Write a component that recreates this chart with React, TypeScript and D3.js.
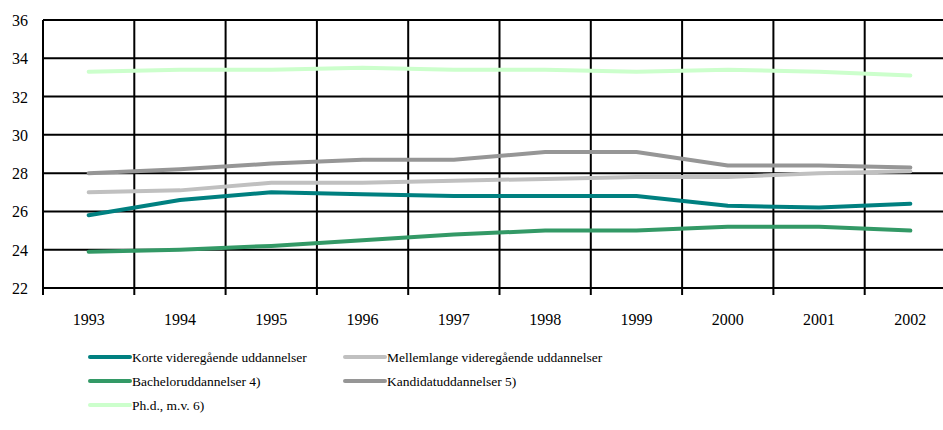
import React from "react";
import * as d3 from "d3";

const years = ["1993", "1994", "1995", "1996", "1997", "1998", "1999", "2000", "2001", "2002"];
const yTicks = [22, 24, 26, 28, 30, 32, 34, 36];

const korte = [25.8, 26.6, 27.0, 26.9, 26.8, 26.8, 26.8, 26.3, 26.2, 26.4];
const mellemlange = [27.0, 27.1, 27.5, 27.5, 27.6, 27.7, 27.8, 27.8, 28.0, 28.1];
const bachelor = [23.9, 24.0, 24.2, 24.5, 24.8, 25.0, 25.0, 25.2, 25.2, 25.0];
const kandidat = [28.0, 28.2, 28.5, 28.7, 28.7, 29.1, 29.1, 28.4, 28.4, 28.3];
const phd = [33.3, 33.4, 33.4, 33.5, 33.4, 33.4, 33.3, 33.4, 33.3, 33.1];

const seriesNames = [
  "Korte videregående uddannelser",
  "Mellemlange videregående uddannelser",
  "Bacheloruddannelser 4)",
  "Kandidatuddannelser 5)",
  "Ph.d., m.v. 6)",
];
const seriesValues = [korte, mellemlange, bachelor, kandidat, phd];
const seriesColors = ["#008080", "#C0C0C0", "#339966", "#969696", "#CCFFCC"];
// draw order (back to front)
const drawOrder = [4, 3, 1, 0, 2];

const W = 943;
const H = 430;
const FONT = '"Liberation Serif", "DejaVu Serif", serif';

export default function App() {
  const left = 43;
  const top = 20;
  const bottom = 288;
  const band = 91.3;
  const x = d3
    .scaleBand<string>()
    .domain(years)
    .range([left, left + band * years.length])
    .paddingInner(0)
    .paddingOuter(0);
  const y = d3.scaleLinear().domain([22, 36]).range([bottom, top]);
  const right = left + band * years.length;
  const cx = (yr: string) => (x(yr) as number) + x.bandwidth() / 2;

  const line = d3
    .line<number>()
    .x((_, i) => cx(years[i]))
    .y((v) => y(v));

  const legendItems = [
    { idx: 0, lx: 90, ly: 357 },
    { idx: 1, lx: 345, ly: 357 },
    { idx: 2, lx: 90, ly: 381 },
    { idx: 3, lx: 345, ly: 381 },
    { idx: 4, lx: 90, ly: 405 },
  ];

  const ts = { fontFamily: FONT };

  return (
    <svg
      width={W}
      height={H}
      style={{ position: "absolute", left: 0, top: 0, background: "#fff", fontFamily: FONT }}
    >
      <rect x={0} y={0} width={W} height={H} fill="#fff" />
      {yTicks.map((t) => (
        <line
          key={"h" + t}
          x1={left}
          x2={right}
          y1={y(t)}
          y2={y(t)}
          stroke="#000"
          strokeWidth={2}
        />
      ))}
      {years.map((yr) => (
        <line
          key={"v" + yr}
          x1={x(yr) as number}
          x2={x(yr) as number}
          y1={top}
          y2={bottom + 7}
          stroke="#000"
          strokeWidth={2}
        />
      ))}
      <line x1={right} x2={right} y1={top} y2={bottom + 7} stroke="#000" strokeWidth={2} />
      {yTicks.map((t) => (
        <text
          key={"yl" + t}
          x={28}
          y={y(t) + 6}
          textAnchor="end"
          fontSize={16}
          fill="#000"
          style={ts}
        >
          {t}
        </text>
      ))}
      {years.map((yr) => (
        <text
          key={"xl" + yr}
          x={cx(yr)}
          y={325}
          textAnchor="middle"
          fontSize={16}
          fill="#000"
          style={ts}
        >
          {yr}
        </text>
      ))}
      {drawOrder.map((i) => (
        <path
          key={"s" + i}
          d={line(seriesValues[i]) as string}
          fill="none"
          stroke={seriesColors[i]}
          strokeWidth={4}
          strokeLinecap="round"
          strokeLinejoin="round"
        />
      ))}
      {legendItems.map((it) => (
        <g key={"lg" + it.idx}>
          <line
            x1={it.lx}
            x2={it.lx + 40}
            y1={it.ly}
            y2={it.ly}
            stroke={seriesColors[it.idx]}
            strokeWidth={4}
            strokeLinecap="round"
          />
          <text x={it.lx + 42} y={it.ly + 5} fontSize={13.5} fill="#000" style={ts}>
            {seriesNames[it.idx]}
          </text>
        </g>
      ))}
    </svg>
  );
}
